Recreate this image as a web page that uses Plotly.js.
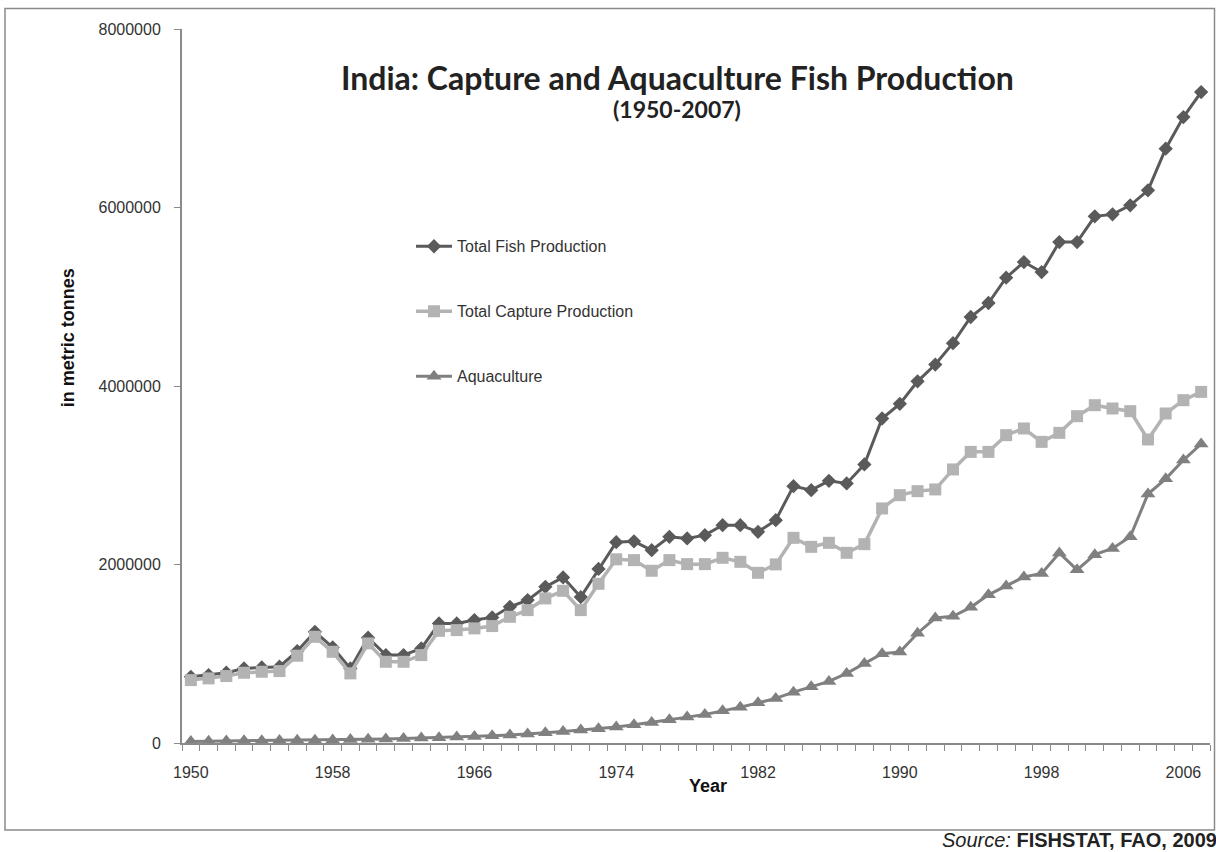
<!DOCTYPE html>
<html>
<head>
<meta charset="utf-8">
<script src="https://cdn.plot.ly/plotly-3.0.1.min.js"></script>
<style>
html,body{margin:0;padding:0;background:#fff;}
#chart{width:1216px;height:852px;}
</style>
</head>
<body>
<div id="chart"></div>
<script>
const years = [];
for (let y = 1950; y <= 2007; y++) years.push(y);

const totalFish = [
  742000, 761000, 787000, 836000, 847000, 855000, 1030000, 1246000, 1071000, 836000,
  1179000, 985000, 985000, 1060000, 1340000, 1340000, 1377000, 1407000, 1526000, 1601000,
  1750000, 1855000, 1635000, 1950000, 2250000, 2260000, 2160000, 2310000, 2292000, 2329000,
  2441000, 2441000, 2366000, 2497000, 2878000, 2833000, 2937000, 2908000, 3121000, 3636000,
  3800000, 4052000, 4240000, 4480000, 4773000, 4930000, 5214000, 5389000, 5277000, 5613000,
  5613000, 5901000, 5923000, 6024000, 6192000, 6659000, 7013000, 7293000
];

const captureProd = [
  705000, 724000, 750000, 787000, 798000, 806000, 978000, 1190000, 1022000, 780000,
  1116000, 910000, 910000, 985000, 1257000, 1265000, 1284000, 1310000, 1414000, 1489000,
  1620000, 1705000, 1489000, 1784000, 2058000, 2049000, 1930000, 2049000, 2004000, 2004000,
  2075000, 2030000, 1907000, 2001000, 2299000, 2198000, 2243000, 2131000, 2228000, 2628000,
  2777000, 2822000, 2841000, 3065000, 3262000, 3262000, 3449000, 3524000, 3374000, 3475000,
  3662000, 3785000, 3748000, 3718000, 3401000, 3692000, 3841000, 3934000
];

const aquaculture = [
  18000, 20000, 22000, 24000, 26000, 28000, 30000, 32000, 35000, 38000,
  42000, 46000, 50000, 55000, 60000, 66000, 72000, 80000, 90000, 100000,
  115000, 130000, 145000, 160000, 180000, 205000, 230000, 260000, 290000, 320000,
  360000, 400000, 450000, 500000, 570000, 630000, 690000, 780000, 890000, 1000000,
  1020000, 1230000, 1400000, 1420000, 1520000, 1660000, 1760000, 1860000, 1900000, 2130000,
  1940000, 2110000, 2180000, 2310000, 2790000, 2960000, 3170000, 3350000
];

const seriesNames = ['Total Fish Production', 'Total Capture Production', 'Aquaculture'];
const xTickYears = [1950, 1958, 1966, 1974, 1982, 1990, 1998, 2006];
const yTicks = [0, 2000000, 4000000, 6000000, 8000000];
const titleText = 'India: Capture and Aquaculture Fish Production';
const subtitleText = '(1950-2007)';
const yTitleText = 'in metric tonnes';
const xTitleText = 'Year';
const sourceText = '<i>Source:</i> <b>FISHSTAT, FAO, 2009</b>';

const sans = '"Liberation Sans", Arial, sans-serif';
const legFont = {family: sans, size: 16, color: '#333'};

const traces = [
  {
    x: years, y: totalFish, name: seriesNames[0], type: 'scatter', mode: 'lines+markers',
    line: {color: '#5a5a5a', width: 3},
    marker: {symbol: 'diamond', size: 11, color: '#5a5a5a'},
    legend: 'legend', cliponaxis: false
  },
  {
    x: years, y: captureProd, name: seriesNames[1], type: 'scatter', mode: 'lines+markers',
    line: {color: '#b3b3b3', width: 3.5},
    marker: {symbol: 'square', size: 12, color: '#b3b3b3'},
    legend: 'legend2', cliponaxis: false
  },
  {
    x: years, y: aquaculture, name: seriesNames[2], type: 'scatter', mode: 'lines+markers',
    line: {color: '#808080', width: 3},
    marker: {symbol: 'triangle-up', size: 13, color: '#808080'},
    legend: 'legend3', cliponaxis: false
  }
];

const L = 182, R = 1210, T = 28.5, B = 743;
const W = R - L, H = B - T;
const px = v => (v - L) / W;
const py = v => (B - v) / H;

const legendBase = {
  xanchor: 'left', yanchor: 'middle', bgcolor: 'rgba(0,0,0,0)',
  font: legFont, itemwidth: 36, borderwidth: 0
};

const layout = {
  width: 1216, height: 852,
  margin: {l: L, r: 1216 - R, t: T, b: 852 - B, pad: 0},
  paper_bgcolor: '#fff', plot_bgcolor: '#fff',
  font: {family: sans, color: '#333'},
  showlegend: true,
  legend: Object.assign({}, legendBase, {x: px(411), y: py(246)}),
  legend2: Object.assign({}, legendBase, {x: px(411), y: py(311)}),
  legend3: Object.assign({}, legendBase, {x: px(411), y: py(376)}),
  xaxis: {
    range: [1949.5, 2007.5],
    tickmode: 'array', tickvals: xTickYears, ticktext: xTickYears.map(String),
    ticks: '', showgrid: false, zeroline: false,
    showline: true, linecolor: '#8a8a8a', linewidth: 2,
    tickfont: {family: sans, size: 16, color: '#333'},
    ticklabelstandoff: 14,
    minor: {tickmode: 'linear', tick0: 1949.5, dtick: 1, ticks: 'outside', ticklen: 6, tickcolor: '#8a8a8a', tickwidth: 1, showgrid: false},
    fixedrange: true
  },
  yaxis: {
    range: [0, 8000000],
    tickmode: 'array', tickvals: yTicks, ticktext: yTicks.map(String),
    ticks: 'outside', ticklen: 6, tickcolor: '#8a8a8a', tickwidth: 1,
    showgrid: false, zeroline: false,
    showline: true, linecolor: '#8a8a8a', linewidth: 2,
    tickfont: {family: sans, size: 16, color: '#333'},
    ticklabelstandoff: 10,
    fixedrange: true
  },
  shapes: [
    {type: 'rect', xref: 'paper', yref: 'paper',
     x0: px(5), x1: px(1214.5), y0: py(830), y1: py(8),
     line: {color: '#8a8a8a', width: 1.5}, fillcolor: 'rgba(0,0,0,0)', layer: 'below'}
  ],
  annotations: [
    {text: '<b>' + titleText + '</b>', xref: 'paper', yref: 'paper', x: px(677), y: py(77),
     xanchor: 'center', yanchor: 'middle', showarrow: false,
     font: {family: 'Lato, "Open Sans", sans-serif', size: 32, color: '#222'}},
    {text: '<b>' + subtitleText + '</b>', xref: 'paper', yref: 'paper', x: px(677), y: py(109),
     xanchor: 'center', yanchor: 'middle', showarrow: false,
     font: {family: 'Lato, "Open Sans", sans-serif', size: 23, color: '#222'}},
    {text: '<b>' + yTitleText + '</b>', xref: 'paper', yref: 'paper', x: px(68), y: py(338),
     xanchor: 'center', yanchor: 'middle', showarrow: false, textangle: -90,
     font: {family: sans, size: 18, color: '#111'}},
    {text: '<b>' + xTitleText + '</b>', xref: 'paper', yref: 'paper', x: px(708), y: py(786),
     xanchor: 'center', yanchor: 'middle', showarrow: false,
     font: {family: sans, size: 18, color: '#111'}},
    {text: sourceText, xref: 'paper', yref: 'paper', x: px(1219), y: py(840),
     xanchor: 'right', yanchor: 'middle', showarrow: false,
     font: {family: sans, size: 20, color: '#222'}}
  ]
};

Plotly.newPlot('chart', traces, layout, {displayModeBar: false, staticPlot: true});
</script>
</body>
</html>
